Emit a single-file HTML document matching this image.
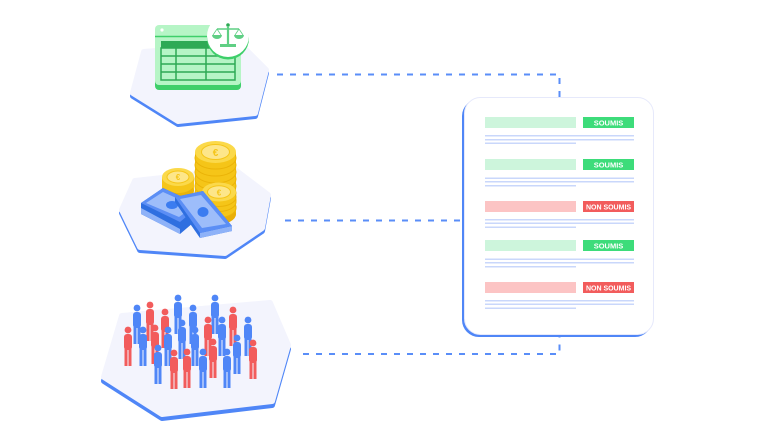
<!DOCTYPE html>
<html><head><meta charset="utf-8"><style>
html,body{margin:0;padding:0;background:#fff;}
svg{display:block;}
text{font-family:"Liberation Sans",sans-serif;font-weight:bold;}
</style></head><body>
<svg width="758" height="427" viewBox="0 0 758 427" xmlns="http://www.w3.org/2000/svg">
<!-- connectors -->
<g fill="none" stroke="#5a8ef8" stroke-width="2" stroke-dasharray="6 7">
<path d="M277 74.5 H559.5 V97"/>
<path d="M285 220.5 H463"/>
<path d="M303 354 H559.5 V337"/>
</g>

<!-- platforms -->
<g stroke-linejoin="round">
<polygon points="133,96 144,55 240,47 266,73 255,116 178,124" fill="#4f86f7" stroke="#4f86f7" stroke-width="6"/>
<polygon points="133,93 144,52 240,44 266,70 255,113 178,121" fill="#f3f4fd" stroke="#f3f4fd" stroke-width="6"/>

<polygon points="122,213 135,184 235,173 268,198 262,231 225,256 140,250" fill="#4f86f7" stroke="#4f86f7" stroke-width="6"/>
<polygon points="122,210 135,181 235,170 268,195 262,228 225,253 140,247" fill="#f3f4fd" stroke="#f3f4fd" stroke-width="6"/>

<polygon points="104,381 122,320 270,307 288,349 272,405 162,418" fill="#4f86f7" stroke="#4f86f7" stroke-width="6"/>
<polygon points="104,377 122,316 270,303 288,345 272,401 162,414" fill="#f3f4fd" stroke="#f3f4fd" stroke-width="6"/>
</g>

<!-- table icon -->
<rect x="155" y="27" width="86" height="63" rx="4" fill="#3ecf6a"/>
<rect x="155" y="25" width="86" height="60" rx="4" fill="#b6f5c6"/>
<line x1="155" y1="36.5" x2="241" y2="36.5" stroke="#3ecf6a" stroke-width="1.5"/>
<circle cx="162" cy="30" r="1.6" fill="#fff"/>
<rect x="161" y="41" width="74" height="7" fill="#2eaa55"/>
<rect x="161" y="48" width="74" height="32" fill="#b6f5c6" stroke="#2eaa55" stroke-width="1.5"/>
<g stroke="#2eaa55" stroke-width="1.5">
<line x1="161" y1="56" x2="235" y2="56"/>
<line x1="161" y1="64" x2="235" y2="64"/>
<line x1="161" y1="72" x2="235" y2="72"/>
<line x1="176" y1="48" x2="176" y2="80"/>
<line x1="206" y1="48" x2="206" y2="80"/>
</g>
<circle cx="228" cy="38.5" r="21" fill="#3ecf6a"/>
<circle cx="228" cy="36" r="21" fill="#fff"/>
<g fill="#5fcf84" stroke="#5fcf84">
<circle cx="228" cy="25" r="1.8" fill="#2eaa55" stroke="none"/>
<line x1="228" y1="26" x2="228" y2="44" stroke-width="2.2"/>
<line x1="217" y1="29" x2="239" y2="29" stroke-width="1.5"/>
<line x1="217" y1="29" x2="213" y2="35" stroke-width="0.8"/>
<line x1="217" y1="29" x2="221" y2="35" stroke-width="0.8"/>
<line x1="239" y1="29" x2="235" y2="35" stroke-width="0.8"/>
<line x1="239" y1="29" x2="243" y2="35" stroke-width="0.8"/>
<path d="M212 35 A5 4 0 0 0 222 35 Z" stroke="none"/>
<path d="M234 35 A5 4 0 0 0 244 35 Z" stroke="none"/>
<rect x="220" y="44" width="16" height="3" stroke="none"/>
</g>

<!-- coins: left small stack -->
<g>
<rect x="162" y="177" width="32" height="14" fill="#f5c518"/>
<ellipse cx="178" cy="191" rx="16" ry="9" fill="#eab308"/>
<ellipse cx="178" cy="184" rx="16" ry="9" fill="#f5c518"/>
<ellipse cx="178" cy="177" rx="16" ry="9" fill="#fbd94a"/>
<ellipse cx="178" cy="177" rx="11" ry="6" fill="#fde68a" stroke="#f5c518" stroke-width="1"/>
<text x="178" y="180" font-size="8" fill="#f5c518" text-anchor="middle">€</text>
</g>
<!-- tall stack -->
<g>
<rect x="195" y="152" width="41" height="62" fill="#f5c518"/>
<ellipse cx="215.5" cy="214" rx="20.5" ry="11" fill="#e9ae06"/>
<ellipse cx="215.5" cy="207" rx="20.5" ry="11" fill="#f5c518" stroke="#eab308"/>
<ellipse cx="215.5" cy="200" rx="20.5" ry="11" fill="#f5c518" stroke="#eab308"/>
<ellipse cx="215.5" cy="193" rx="20.5" ry="11" fill="#f5c518" stroke="#eab308"/>
<ellipse cx="215.5" cy="186" rx="20.5" ry="11" fill="#f5c518" stroke="#eab308"/>
<ellipse cx="215.5" cy="179" rx="20.5" ry="11" fill="#f5c518" stroke="#eab308"/>
<ellipse cx="215.5" cy="172" rx="20.5" ry="11" fill="#f5c518" stroke="#eab308"/>
<ellipse cx="215.5" cy="165" rx="20.5" ry="11" fill="#f5c518" stroke="#eab308"/>
<ellipse cx="215.5" cy="158" rx="20.5" ry="11" fill="#f5c518" stroke="#eab308"/>
<ellipse cx="215.5" cy="152" rx="20.5" ry="11" fill="#fbd94a"/>
<ellipse cx="215.5" cy="152" rx="14" ry="7.5" fill="#fde68a" stroke="#f5c518" stroke-width="1"/>
<text x="215.5" y="156" font-size="10" fill="#f5c518" text-anchor="middle">€</text>
</g>
<!-- right small stack -->
<g>
<rect x="202" y="192" width="34" height="22" fill="#f5c518"/>
<ellipse cx="219" cy="214" rx="17" ry="9.5" fill="#e9ae06"/>
<ellipse cx="219" cy="208" rx="17" ry="9.5" fill="#f5c518" stroke="#eab308"/>
<ellipse cx="219" cy="202" rx="17" ry="9.5" fill="#f5c518" stroke="#eab308"/>
<ellipse cx="219" cy="197" rx="17" ry="9.5" fill="#f5c518" stroke="#eab308"/>
<ellipse cx="219" cy="192" rx="17" ry="9.5" fill="#fbd94a"/>
<ellipse cx="219" cy="192" rx="11.5" ry="6.3" fill="#fde68a" stroke="#f5c518" stroke-width="1"/>
<text x="219" y="195.5" font-size="8" fill="#f5c518" text-anchor="middle">€</text>
</g>
<!-- bills -->
<g stroke-linejoin="round">
<polygon points="141,203 163,188 200,205 200,217 180,234 141,214" fill="#2f6fe0"/>
<polygon points="141,208 180,229 180,234 141,214" fill="#8eb2f8"/>
<polygon points="141,203 163,188 200,205 180,222" fill="#5b8ef5"/>
<polygon points="146,203 163,192 194,206 179,217" fill="#9dbdfa"/>
<ellipse cx="172" cy="205" rx="6" ry="4" fill="#3b7cf0"/>

<polygon points="175,197 203,191 232,226 232,231 200,238 175,202" fill="#2f6fe0"/>
<polygon points="200,233 232,226 232,231 200,238" fill="#8eb2f8"/>
<polygon points="175,197 203,191 232,226 200,233" fill="#5b8ef5"/>
<polygon points="180,199 201,195 226,224 202,228" fill="#9dbdfa"/>
<ellipse cx="203" cy="212" rx="5.5" ry="5" fill="#3b7cf0"/>
</g>

<!-- people -->
<g id="people">
<!-- figure template: head r3.3, torso, legs -->
<g fill="#4f86f7"><circle cx="178" cy="298" r="3.4"/><rect x="174" y="302" width="8" height="16" rx="3"/><rect x="174.5" y="316" width="3" height="18"/><rect x="178.5" y="316" width="3" height="18"/></g>
<g fill="#4f86f7"><circle cx="215" cy="298" r="3.4"/><rect x="211" y="302" width="8" height="16" rx="3"/><rect x="211.5" y="316" width="3" height="18"/><rect x="215.5" y="316" width="3" height="18"/></g>
<g fill="#f25c5c"><circle cx="150" cy="305" r="3.4"/><rect x="146" y="309" width="8" height="16" rx="3"/><rect x="146.5" y="323" width="3" height="18"/><rect x="150.5" y="323" width="3" height="18"/></g>
<g fill="#4f86f7"><circle cx="137" cy="308" r="3.4"/><rect x="133" y="312" width="8" height="16" rx="3"/><rect x="133.5" y="326" width="3" height="18"/><rect x="137.5" y="326" width="3" height="18"/></g>
<g fill="#4f86f7"><circle cx="193" cy="308" r="3.4"/><rect x="189" y="312" width="8" height="16" rx="3"/><rect x="189.5" y="326" width="3" height="18"/><rect x="193.5" y="326" width="3" height="18"/></g>
<g fill="#f25c5c"><circle cx="233" cy="310" r="3.4"/><rect x="229" y="314" width="8" height="16" rx="3"/><rect x="229.5" y="328" width="3" height="18"/><rect x="233.5" y="328" width="3" height="18"/></g>
<g fill="#f25c5c"><circle cx="165" cy="312" r="3.4"/><rect x="161" y="316" width="8" height="16" rx="3"/><rect x="161.5" y="330" width="3" height="18"/><rect x="165.5" y="330" width="3" height="18"/></g>
<g fill="#f25c5c"><circle cx="208" cy="320" r="3.4"/><rect x="204" y="324" width="8" height="16" rx="3"/><rect x="204.5" y="338" width="3" height="18"/><rect x="208.5" y="338" width="3" height="18"/></g>
<g fill="#4f86f7"><circle cx="222" cy="320" r="3.4"/><rect x="218" y="324" width="8" height="16" rx="3"/><rect x="218.5" y="338" width="3" height="18"/><rect x="222.5" y="338" width="3" height="18"/></g>
<g fill="#4f86f7"><circle cx="248" cy="320" r="3.4"/><rect x="244" y="324" width="8" height="16" rx="3"/><rect x="244.5" y="338" width="3" height="18"/><rect x="248.5" y="338" width="3" height="18"/></g>
<g fill="#4f86f7"><circle cx="182" cy="323" r="3.4"/><rect x="178" y="327" width="8" height="16" rx="3"/><rect x="178.5" y="341" width="3" height="18"/><rect x="182.5" y="341" width="3" height="18"/></g>
<g fill="#f25c5c"><circle cx="155" cy="328" r="3.4"/><rect x="151" y="332" width="8" height="16" rx="3"/><rect x="151.5" y="346" width="3" height="18"/><rect x="155.5" y="346" width="3" height="18"/></g>
<g fill="#f25c5c"><circle cx="128" cy="330" r="3.4"/><rect x="124" y="334" width="8" height="16" rx="3"/><rect x="124.5" y="348" width="3" height="18"/><rect x="128.5" y="348" width="3" height="18"/></g>
<g fill="#4f86f7"><circle cx="143" cy="330" r="3.4"/><rect x="139" y="334" width="8" height="16" rx="3"/><rect x="139.5" y="348" width="3" height="18"/><rect x="143.5" y="348" width="3" height="18"/></g>
<g fill="#4f86f7"><circle cx="168" cy="330" r="3.4"/><rect x="164" y="334" width="8" height="16" rx="3"/><rect x="164.5" y="348" width="3" height="18"/><rect x="168.5" y="348" width="3" height="18"/></g>
<g fill="#4f86f7"><circle cx="195" cy="330" r="3.4"/><rect x="191" y="334" width="8" height="16" rx="3"/><rect x="191.5" y="348" width="3" height="18"/><rect x="195.5" y="348" width="3" height="18"/></g>
<g fill="#4f86f7"><circle cx="237" cy="338" r="3.4"/><rect x="233" y="342" width="8" height="16" rx="3"/><rect x="233.5" y="356" width="3" height="18"/><rect x="237.5" y="356" width="3" height="18"/></g>
<g fill="#f25c5c"><circle cx="213" cy="342" r="3.4"/><rect x="209" y="346" width="8" height="16" rx="3"/><rect x="209.5" y="360" width="3" height="18"/><rect x="213.5" y="360" width="3" height="18"/></g>
<g fill="#f25c5c"><circle cx="253" cy="343" r="3.4"/><rect x="249" y="347" width="8" height="16" rx="3"/><rect x="249.5" y="361" width="3" height="18"/><rect x="253.5" y="361" width="3" height="18"/></g>
<g fill="#4f86f7"><circle cx="158" cy="348" r="3.4"/><rect x="154" y="352" width="8" height="16" rx="3"/><rect x="154.5" y="366" width="3" height="18"/><rect x="158.5" y="366" width="3" height="18"/></g>
<g fill="#f25c5c"><circle cx="187" cy="352" r="3.4"/><rect x="183" y="356" width="8" height="16" rx="3"/><rect x="183.5" y="370" width="3" height="18"/><rect x="187.5" y="370" width="3" height="18"/></g>
<g fill="#4f86f7"><circle cx="203" cy="352" r="3.4"/><rect x="199" y="356" width="8" height="16" rx="3"/><rect x="199.5" y="370" width="3" height="18"/><rect x="203.5" y="370" width="3" height="18"/></g>
<g fill="#4f86f7"><circle cx="227" cy="352" r="3.4"/><rect x="223" y="356" width="8" height="16" rx="3"/><rect x="223.5" y="370" width="3" height="18"/><rect x="227.5" y="370" width="3" height="18"/></g>
<g fill="#f25c5c"><circle cx="174" cy="353" r="3.4"/><rect x="170" y="357" width="8" height="16" rx="3"/><rect x="170.5" y="371" width="3" height="18"/><rect x="174.5" y="371" width="3" height="18"/></g>
</g>

<!-- document card -->
<rect x="462" y="99" width="190" height="238" rx="17" fill="#4f86f7"/>
<rect x="464.5" y="97.5" width="189" height="237" rx="16" fill="#fff" stroke="#e6e9fb" stroke-width="1"/>

<g>
<!-- row 1 -->
<rect x="485" y="117" width="91" height="11" fill="#cdf5dc"/>
<rect x="583" y="117" width="51" height="11" fill="#3ddc7a"/>
<text x="608.5" y="125.3" font-size="7.5" fill="#fff" text-anchor="middle">SOUMIS</text>
<rect x="485" y="135" width="149" height="1.5" fill="#c9d7fb"/>
<rect x="485" y="139" width="149" height="1.5" fill="#c9d7fb"/>
<rect x="485" y="142.5" width="91" height="1.5" fill="#c9d7fb"/>
<!-- row 2 -->
<rect x="485" y="159" width="91" height="11" fill="#cdf5dc"/>
<rect x="583" y="159" width="51" height="11" fill="#3ddc7a"/>
<text x="608.5" y="167.3" font-size="7.5" fill="#fff" text-anchor="middle">SOUMIS</text>
<rect x="485" y="177.5" width="149" height="1.5" fill="#c9d7fb"/>
<rect x="485" y="181" width="149" height="1.5" fill="#c9d7fb"/>
<rect x="485" y="185" width="91" height="1.5" fill="#c9d7fb"/>
<!-- row 3 -->
<rect x="485" y="201" width="91" height="11" fill="#fcc4c4"/>
<rect x="583" y="201" width="51" height="11" fill="#f25c5c"/>
<text x="608.5" y="209.3" font-size="7" fill="#fff" text-anchor="middle">NON SOUMIS</text>
<rect x="485" y="219" width="149" height="1.5" fill="#c9d7fb"/>
<rect x="485" y="222.5" width="149" height="1.5" fill="#c9d7fb"/>
<rect x="485" y="226.5" width="91" height="1.5" fill="#c9d7fb"/>
<!-- row 4 -->
<rect x="485" y="240" width="91" height="11" fill="#cdf5dc"/>
<rect x="583" y="240" width="51" height="11" fill="#3ddc7a"/>
<text x="608.5" y="248.3" font-size="7.5" fill="#fff" text-anchor="middle">SOUMIS</text>
<rect x="485" y="258.5" width="149" height="1.5" fill="#c9d7fb"/>
<rect x="485" y="262" width="149" height="1.5" fill="#c9d7fb"/>
<rect x="485" y="266" width="91" height="1.5" fill="#c9d7fb"/>
<!-- row 5 -->
<rect x="485" y="282" width="91" height="11" fill="#fcc4c4"/>
<rect x="583" y="282" width="51" height="11" fill="#f25c5c"/>
<text x="608.5" y="290.3" font-size="7" fill="#fff" text-anchor="middle">NON SOUMIS</text>
<rect x="485" y="300" width="149" height="1.5" fill="#c9d7fb"/>
<rect x="485" y="303.5" width="149" height="1.5" fill="#c9d7fb"/>
<rect x="485" y="307.5" width="91" height="1.5" fill="#c9d7fb"/>
</g>
</svg>
</body></html>
